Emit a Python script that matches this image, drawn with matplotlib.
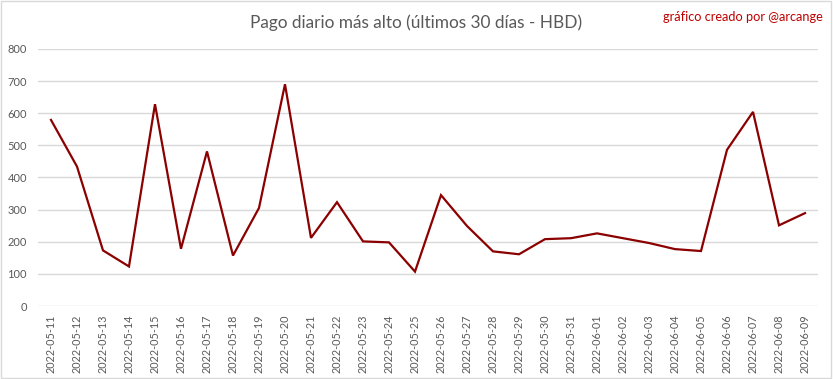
import matplotlib
matplotlib.use("Agg")
from matplotlib import pyplot as plt
from matplotlib.patches import Rectangle

fechas = ["2022-05-11", "2022-05-12", "2022-05-13", "2022-05-14", "2022-05-15",
          "2022-05-16", "2022-05-17", "2022-05-18", "2022-05-19", "2022-05-20",
          "2022-05-21", "2022-05-22", "2022-05-23", "2022-05-24", "2022-05-25",
          "2022-05-26", "2022-05-27", "2022-05-28", "2022-05-29", "2022-05-30",
          "2022-05-31", "2022-06-01", "2022-06-02", "2022-06-03", "2022-06-04",
          "2022-06-05", "2022-06-06", "2022-06-07", "2022-06-08", "2022-06-09"]
pago = [579, 434, 173, 123, 628, 178, 481, 157, 305, 690,
        212, 323, 201, 198, 107, 345, 249, 170, 161, 208,
        211, 226, 211, 196, 177, 171, 486, 604, 251, 289]
yticks = [0, 100, 200, 300, 400, 500, 600, 700, 800]

plt.rcParams['font.family'] = ['Lato', 'DejaVu Sans']

fig = plt.figure(figsize=(8.33, 3.79), dpi=100)
ax = fig.add_axes([0.0456, 0.1926, 0.9364, 0.6784])

x = list(range(len(fechas)))
ax.plot(x, pago, color='#8b0000', linewidth=1.6, solid_joinstyle='miter')

ax.set_xlim(-0.5, len(fechas) - 0.5)
ax.set_ylim(0, 800)
ax.set_yticks(yticks)
ax.set_xticks(x)
ax.set_xticklabels(fechas, rotation=90, fontsize=7.8, color='#595959')
ax.tick_params(axis='y', labelsize=8, labelcolor='#595959', length=0, pad=8)
ax.tick_params(axis='x', length=0, pad=6)
ax.grid(axis='y', color='#d9d9d9', linewidth=1)
ax.set_axisbelow(True)
for s in ax.spines.values():
    s.set_visible(False)

fig.text(0.5, 0.94, "Pago diario más alto (últimos 30 días - HBD)",
         ha='center', va='center', fontsize=12.4, color='#595959')
fig.text(0.988, 0.955, "gráfico creado por @arcange", ha='right', va='center',
         fontsize=9.2, color='#c00000')

fig.patches.append(Rectangle((0.001, 0.002), 0.997, 0.995, transform=fig.transFigure,
                             fill=False, edgecolor='#d9d9d9', linewidth=1))

fig.savefig("out.png", dpi=100)
